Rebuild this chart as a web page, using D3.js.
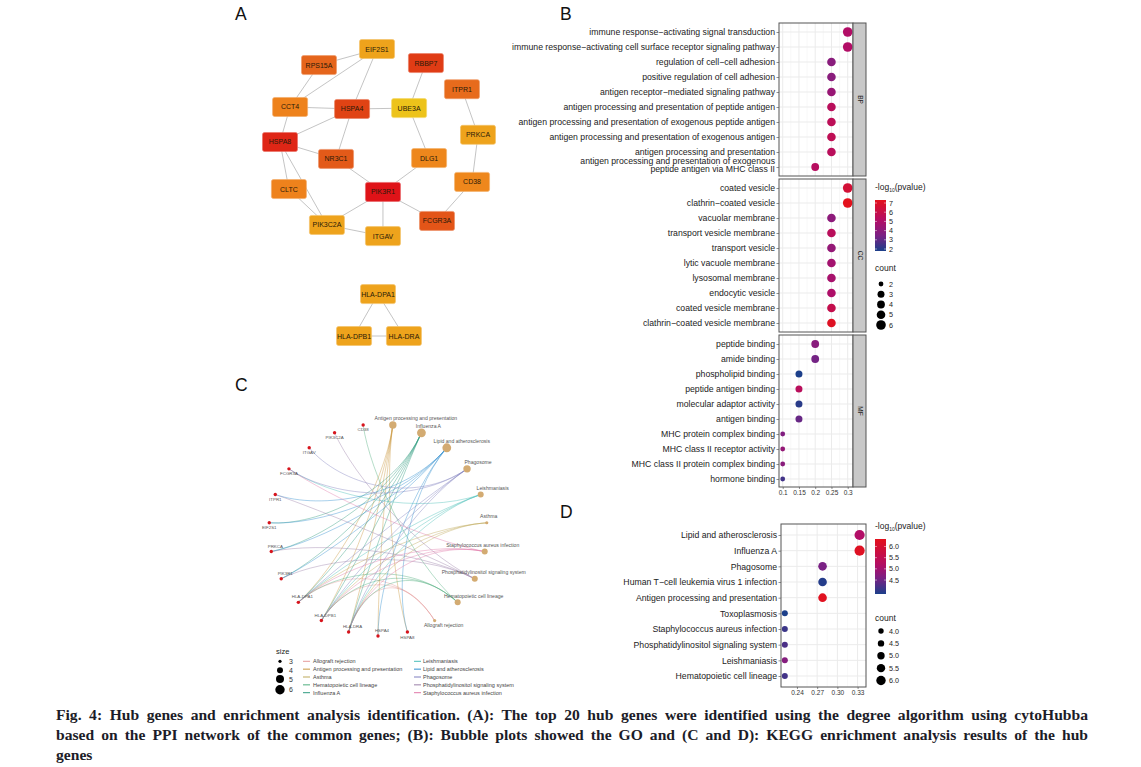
<!DOCTYPE html>
<html><head><meta charset="utf-8">
<script src="https://cdn.jsdelivr.net/npm/d3@7"></script>
<style>html,body{margin:0;padding:0;background:#fff}svg{display:block}text{font-family:"Liberation Sans",Arial,sans-serif}</style>
</head><body><svg id="c" width="1141" height="767"></svg>
<script>
// ---------- Panel A data
const hubGenes=["EIF2S1","RPS15A","RBBP7","ITPR1","CCT4","HSPA4","UBE3A","PRKCA","HSPA8","NR3C1","DLG1","CD38","CLTC","PIK3R1","FCGR3A","PIK3C2A","ITGAV","HLA-DPA1","HLA-DPB1","HLA-DRA"];
const hubScores=[3,6.5,8.3,6.2,5,8,1,3,9.2,7,4.7,4.7,5,10,7.2,3,3,3,3,3];
const hubLayoutX=[49,19.7,73.7,91.9,5.1,36.4,65.2,100,0,28.3,75.3,97,4.5,52,79.3,23.7,52,49.5,37.4,62.6];
const hubLayoutY=[0,5.6,4.9,14,20.2,20.9,20.6,29.9,32.4,38.3,38,46.3,48.8,49.8,59.9,61.3,65.2,85.4,100,100];
const hubLinks=[["EIF2S1","RPS15A"],["EIF2S1","CCT4"],["EIF2S1","HSPA4"],["RPS15A","CCT4"],["CCT4","HSPA4"],["CCT4","HSPA8"],["HSPA4","UBE3A"],["HSPA4","HSPA8"],["HSPA4","NR3C1"],["UBE3A","RBBP7"],["UBE3A","DLG1"],["ITPR1","PRKCA"],["PRKCA","CD38"],["CD38","FCGR3A"],["HSPA8","NR3C1"],["HSPA8","CLTC"],["HSPA8","PIK3C2A"],["CLTC","PIK3C2A"],["NR3C1","PIK3R1"],["DLG1","PIK3R1"],["PIK3R1","PIK3C2A"],["PIK3R1","ITGAV"],["PIK3R1","FCGR3A"],["PIK3C2A","ITGAV"],["HLA-DPA1","HLA-DPB1"],["HLA-DPA1","HLA-DRA"],["HLA-DPB1","HLA-DRA"]];
// ---------- Panel B data
const bpNames=["immune response−activating signal transduction","immune response−activating cell surface receptor signaling pathway","regulation of cell−cell adhesion","positive regulation of cell adhesion","antigen receptor−mediated signaling pathway","antigen processing and presentation of peptide antigen","antigen processing and presentation of exogenous peptide antigen","antigen processing and presentation of exogenous antigen","antigen processing and presentation","antigen processing and presentation of exogenous peptide antigen via MHC class II"];
const bpRatio=[.3,.3,.25,.25,.25,.25,.25,.25,.25,.2];
const bpLog=[5,5,3.9,3.9,4.3,5.3,5.4,5.5,5.3,5.2];
const bpCount=[6,6,5,5,5,5,5,5,5,4];
const ccNames=["coated vesicle","clathrin−coated vesicle","vacuolar membrane","transport vesicle membrane","transport vesicle","lytic vacuole membrane","lysosomal membrane","endocytic vesicle","coated vesicle membrane","clathrin−coated vesicle membrane"];
const ccRatio=[.3,.3,.25,.25,.25,.25,.25,.25,.25,.25];
const ccLog=[6.3,7,4,5.3,4.2,4.6,4.7,4.9,5.7,6.8];
const ccCount=[6,6,5,5,5,5,5,5,5,5];
const mfNames=["peptide binding","amide binding","phospholipid binding","peptide antigen binding","molecular adaptor activity","antigen binding","MHC protein complex binding","MHC class II receptor activity","MHC class II protein complex binding","hormone binding"];
const mfRatio=[.2,.2,.15,.15,.15,.15,.1,.1,.1,.1];
const mfLog=[3.9,3.4,2,5.3,2.2,3.2,3.7,4.2,3.9,2.6];
const mfCount=[4,4,3,3,3,3,2,2,2,2];
const goTicks=[.1,.15,.2,.25,.3];
const goColorTicks=[7,6,5,4,3,2];
const goCountTicks=[2,3,4,5,6];
// ---------- Panel C data
const circleGenes=["CD38","PIK3C2A","ITGAV","FCGR3A","ITPR1","EIF2S1","PRKCA","PIK3R1","HLA-DPA1","HLA-DPB1","HLA-DRA","HSPA4","HSPA8"];
const circleTerms=["Allograft rejection","Hematopoietic cell lineage","Phosphatidylinositol signaling system","Staphylococcus aureus infection","Asthma","Leishmaniasis","Phagosome","Lipid and atherosclerosis","Influenza A","Antigen processing and presentation"];
const hla=["HLA-DPA1","HLA-DPB1","HLA-DRA"];
const termGenes={
 "Allograft rejection":[...hla],
 "Antigen processing and presentation":[...hla,"HSPA4","HSPA8"],
 "Asthma":[...hla],
 "Hematopoietic cell lineage":[...hla,"CD38"],
 "Influenza A":[...hla,"EIF2S1","PIK3R1","PRKCA"],
 "Leishmaniasis":[...hla,"FCGR3A"],
 "Lipid and atherosclerosis":["HSPA8","HSPA4","EIF2S1","PIK3R1","PRKCA","ITPR1"],
 "Phagosome":[...hla,"FCGR3A","ITGAV"],
 "Phosphatidylinositol signaling system":["PIK3R1","PIK3C2A","ITPR1","PRKCA"],
 "Staphylococcus aureus infection":[...hla,"FCGR3A"]};
const legendTerms=["Allograft rejection","Antigen processing and presentation","Asthma","Hematopoietic cell lineage","Influenza A","Leishmaniasis","Lipid and atherosclerosis","Phagosome","Phosphatidylinositol signaling system","Staphylococcus aureus infection"];
const termColors=["#e59a9a","#c9973f","#bda95a","#4fae7e","#2f9c80","#48bdb8","#2f8fd0","#7f7fbf","#9a7fa8","#e078a8"];
const sizeTicks=[3,4,5,6];
// ---------- Panel D data
const keggNames=["Lipid and atherosclerosis","Influenza A","Phagosome","Human T−cell leukemia virus 1 infection","Antigen processing and presentation","Toxoplasmosis","Staphylococcus aureus infection","Phosphatidylinositol signaling system","Leishmaniasis","Hematopoietic cell lineage"];
const keggRatio=[.333,.333,.278,.278,.278,.222,.222,.222,.222,.222];
const keggLog=[5.2,6.1,4.7,4.15,6.15,4.1,4.3,4.4,4.8,4.35];
const keggCount=[6,6,5,5,5,4,4,4,4,4];
const keggTicks=[.24,.27,.30,.33];
const keggColorTicks=[6,5.5,5,4.5];
const keggCountTicks=[4,4.5,5,5.5,6];
const captionLines=["Fig. 4: Hub genes and enrichment analysis identification. (A): The top 20 hub genes were identified using the degree algorithm using cytoHubba","based on the PPI network of the common genes; (B): Bubble plots showed the GO and (C and D): KEGG enrichment analysis results of the hub","genes"];

const svg=d3.select("#c");
// panel letters
[["A",235,20],["B",560,20],["C",235,391],["D",560,518]].forEach(([t,x,y])=>svg.append("text").attr("x",x).attr("y",y).attr("font-size",17.5).attr("fill","#111").text(t));

// ---------- Panel A
(function(){
 const x=d3.scaleLinear([0,100],[280,478]),y=d3.scaleLinear([0,100],[49,336]);
 const col=d3.scaleLinear([1,3,5,6.5,8,10],["#edc31a","#eea31c","#ee821c","#e5651c","#e04314","#df1318"]);
 const g=svg.append("g");
 const idx=n=>hubGenes.indexOf(n);
 g.selectAll("line").data(hubLinks).join("line")
  .attr("x1",d=>x(hubLayoutX[idx(d[0])])).attr("y1",d=>y(hubLayoutY[idx(d[0])]))
  .attr("x2",d=>x(hubLayoutX[idx(d[1])])).attr("y2",d=>y(hubLayoutY[idx(d[1])]))
  .attr("stroke","#b5b5b5").attr("stroke-width",.8);
 const n=g.selectAll("g.n").data(hubGenes).join("g").attr("transform",(d,i)=>`translate(${x(hubLayoutX[i])},${y(hubLayoutY[i])})`);
 n.append("rect").attr("x",-17.5).attr("y",-9.5).attr("width",35).attr("height",19).attr("rx",2)
  .attr("fill",(d,i)=>col(hubScores[i])).attr("stroke",(d,i)=>d3.interpolateRgb(col(hubScores[i]),"#fff")(.35)).attr("stroke-width",.7);
 n.append("text").attr("text-anchor","middle").attr("y",2.5).attr("font-size",7).attr("fill","#2a1a08").text(d=>d);
})();

// ---------- dot plot helpers
function dotPanel(o){
 const g=svg.append("g");
 const x=d3.scaleLinear(o.xDomain,[o.x0,o.x1]);
 const y=d3.scalePoint(o.names,[o.rowTop,o.rowBot]);
 g.append("rect").attr("x",o.x0).attr("y",o.y0).attr("width",o.x1-o.x0).attr("height",o.y1-o.y0).attr("fill","#fff");
 const minors=d3.pairs(o.ticks).map(([a,b])=>(a+b)/2);
 g.selectAll("line.mi").data(minors).join("line").attr("class","mi").attr("x1",d=>x(d)).attr("x2",d=>x(d)).attr("y1",o.y0).attr("y2",o.y1).attr("stroke","#f4f4f4").attr("stroke-width",.6);
 g.selectAll("line.ma").data(o.ticks).join("line").attr("class","ma").attr("x1",d=>x(d)).attr("x2",d=>x(d)).attr("y1",o.y0).attr("y2",o.y1).attr("stroke","#ebebeb").attr("stroke-width",1);
 g.selectAll("line.hz").data(o.names).join("line").attr("class","hz").attr("x1",o.x0).attr("x2",o.x1).attr("y1",d=>y(d)).attr("y2",d=>y(d)).attr("stroke","#ebebeb").attr("stroke-width",1);
 const ax=g.append("g").attr("transform",`translate(${o.x0},0)`).call(d3.axisLeft(y).tickSize(2.5).tickPadding(1.5));
 ax.select(".domain").remove();
 ax.selectAll("line").attr("stroke","#444").attr("stroke-width",.6);
 ax.selectAll("text").attr("font-size",o.font).attr("fill","#222").attr("font-family",'"Liberation Sans"').each(function(d){
  if(d.length>70){
   const t=d3.select(this),tx=+t.attr("x"),words=d.split(" ");
   t.text(null);
   t.append("tspan").attr("x",tx).attr("dy","-0.44em").text(words.slice(0,6).join(" "));
   t.append("tspan").attr("x",tx).attr("dy","0.9em").text(words.slice(6).join(" "));
  }
 });
 g.selectAll("circle").data(o.names).join("circle").attr("cx",(d,i)=>x(o.ratio[i])).attr("cy",d=>y(d))
  .attr("r",(d,i)=>o.r(o.count[i])).attr("fill",(d,i)=>o.color(o.log[i]));
 g.append("rect").attr("x",o.x0).attr("y",o.y0).attr("width",o.x1-o.x0).attr("height",o.y1-o.y0).attr("fill","none").attr("stroke","#555").attr("stroke-width",1);
 if(o.strip){
  g.append("rect").attr("x",o.x1).attr("y",o.y0).attr("width",13).attr("height",o.y1-o.y0).attr("fill","#c8c8c8").attr("stroke","#555").attr("stroke-width",1);
  g.append("text").attr("transform",`translate(${o.x1+4.5},${(o.y0+o.y1)/2}) rotate(90)`).attr("text-anchor","middle").attr("font-size",6.5).attr("fill","#222").text(o.strip);
 }
 if(o.showX){
  const a=g.append("g").attr("transform",`translate(0,${o.y1})`).call(d3.axisBottom(x).tickValues(o.ticks).tickFormat(o.fmt).tickSize(2).tickPadding(1.5));
  a.select(".domain").remove();a.selectAll("line").attr("stroke","#444").attr("stroke-width",.6);
  a.selectAll("text").attr("font-size",6.5).attr("fill","#333").attr("font-family",'"Liberation Sans"');
 }
}
function makeLegend(o){
 const g=svg.append("g");
 const t=g.append("text").attr("x",o.x).attr("y",o.titleY).attr("font-size",8.5).attr("fill","#222");
 t.append("tspan").text("-log");t.append("tspan").attr("font-size",5).attr("dy",2).text("10");t.append("tspan").attr("dy",-2).text("(pvalue)");
 const id=o.id;
 const grad=svg.append("defs").append("linearGradient").attr("id",id).attr("x1",0).attr("x2",0).attr("y1",1).attr("y2",0);
 const dom=o.color.domain(),lo=dom[0],hi=dom[dom.length-1];
 d3.range(0,1.001,.1).forEach(f=>grad.append("stop").attr("offset",f).attr("stop-color",o.color(lo+f*(hi-lo))));
 g.append("rect").attr("x",o.x).attr("y",o.barTop).attr("width",11).attr("height",o.barBot-o.barTop).attr("fill",`url(#${id})`);
 const s=d3.scaleLinear([lo,hi],[o.barBot-o.pad0,o.barTop+o.pad1]);
 o.colorTicks.forEach(v=>{
  g.append("line").attr("x1",o.x).attr("x2",o.x+2).attr("y1",s(v)).attr("y2",s(v)).attr("stroke","#fff").attr("stroke-width",.5);
  g.append("line").attr("x1",o.x+9).attr("x2",o.x+11).attr("y1",s(v)).attr("y2",s(v)).attr("stroke","#fff").attr("stroke-width",.5);
  g.append("text").attr("x",o.x+14).attr("y",s(v)+2.6).attr("font-size",7.2).attr("fill","#222").text(o.fmt(v));
 });
 g.append("text").attr("x",o.x).attr("y",o.countY).attr("font-size",8.5).attr("fill","#222").text("count");
 const ys=d3.scalePoint(o.countTicks,[o.cy0,o.cy1]);
 o.countTicks.forEach(v=>{
  g.append("circle").attr("cx",o.x+6).attr("cy",ys(v)).attr("r",o.r(v)).attr("fill","#000");
  g.append("text").attr("x",o.x+14).attr("y",ys(v)+2.6).attr("font-size",7.2).attr("fill","#222").text(o.fmt(v));
 });
}
const ramp=["#1c3f8a","#7a2184","#b20d66","#e3111c"];

// ---------- Panel B
(function(){
 const color=d3.scaleLinear([2,3.5,5,7],ramp);
 const r=d3.scaleLinear([2,3,4,5,6],[2.4,3.5,3.9,4.3,4.8]);
 const base={xDomain:[.0886,.3163],x0:779,x1:853,ticks:goTicks,font:8.7,color,r,fmt:d3.format("")};
 dotPanel({...base,names:bpNames,ratio:bpRatio,log:bpLog,count:bpCount,y0:23,y1:176,rowTop:32,rowBot:167,strip:"BP"});
 dotPanel({...base,names:ccNames,ratio:ccRatio,log:ccLog,count:ccCount,y0:179,y1:332,rowTop:188,rowBot:323,strip:"CC"});
 dotPanel({...base,names:mfNames,ratio:mfRatio,log:mfLog,count:mfCount,y0:335,y1:487,rowTop:344,rowBot:479,strip:"MF",showX:true});
 makeLegend({id:"gb",x:875,titleY:190,color,barTop:200,barBot:251,pad0:2,pad1:3,colorTicks:goColorTicks,countTicks:goCountTicks,countY:271,cy0:284,cy1:325,r:d=>r(d),fmt:d3.format("")});
})();

// ---------- Panel D
(function(){
 const color=d3.scaleLinear([4.1,4.7,5.2,6.2],ramp);
 const r=d3.scaleLinear([4,5,6],[3,4.3,5.1]);
 dotPanel({xDomain:[.2163,.3425],x0:781,x1:866,ticks:keggTicks,font:8.7,color,r,fmt:d3.format(".2f"),names:keggNames,ratio:keggRatio,log:keggLog,count:keggCount,y0:524,y1:687,rowTop:535,rowBot:676,showX:true});
 const rl=d3.scaleLinear([4,6],[2.7,4.7]);
 makeLegend({id:"gd",x:875,titleY:529,color,barTop:539,barBot:594,pad0:5,pad1:3,colorTicks:keggColorTicks,countTicks:keggCountTicks,countY:621,cy0:631,cy1:680.5,r:d=>rl(d),fmt:d3.format(".1f")});
})();

// ---------- Panel C
(function(){
 // evenly spaced around the ring: CD38 just left of the top, running counter-clockwise
 const ordered=[...circleGenes,...circleTerms];
 const step=2*Math.PI/ordered.length;
 const angle=d3.scaleOrdinal(ordered,ordered.map((d,i)=>-step*(0.5+i)));
 const cx=378,cy=530,rx=109,ry=106;
 const rs=d3.scaleLinear([1,3,4,5,6],[1.0,1.6,3,3.7,4.4]);
 const px=n=>cx+rx*Math.sin(angle(n)),py=n=>cy-ry*Math.cos(angle(n));
 const colorOf=d3.scaleOrdinal(legendTerms,termColors);
 const links=legendTerms.flatMap(t=>termGenes[t].map(g=>({t,g})));
 const g=svg.append("g");
 g.selectAll("path").data(links).join("path").attr("fill","none").attr("stroke",d=>colorOf(d.t)).attr("stroke-width",.7).attr("stroke-opacity",.6)
  .attr("d",d=>{
   const x0=px(d.g),y0=py(d.g),x1=px(d.t),y1=py(d.t);
   const p=d3.path();p.moveTo(x0,y0);
   p.bezierCurveTo(x0+(cx-x0)*.45,y0+(cy-y0)*.45,x1+(cx-x1)*.6,y1+(cy-y1)*.6,x1,y1);return p;
  });
 const termSet=new Map(legendTerms.map(t=>[t,termGenes[t].length]));
 g.selectAll("circle.t").data(circleTerms).join("circle").attr("class","t").attr("cx",px).attr("cy",py).attr("r",d=>rs(termSet.get(d))).attr("fill","#d3ab72");
 g.selectAll("circle.g").data(circleGenes).join("circle").attr("class","g").attr("cx",px).attr("cy",py).attr("r",1.7).attr("fill","#d7141c");
 const above=new Set(["PRKCA","PIK3R1","HLA-DPA1","HLA-DPB1","HLA-DRA","HSPA4"]);
 g.selectAll("text.g").data(circleGenes).join("text").attr("class","g").attr("text-anchor","middle").attr("font-size",4.4).attr("fill","#555")
  .attr("x",d=>px(d)+(above.has(d)?4:0)).attr("y",d=>py(d)+(above.has(d)?-4:6.5)).text(d=>d);
 const tdx={"Antigen processing and presentation":23,"Influenza A":7,"Lipid and atherosclerosis":15,"Phagosome":11,"Leishmaniasis":12,"Asthma":2,"Staphylococcus aureus infection":-2,"Phosphatidylinositol signaling system":9,"Hematopoietic cell lineage":16,"Allograft rejection":9};
 const tdy={"Antigen processing and presentation":-4.5,"Influenza A":-4.5,"Lipid and atherosclerosis":-4.5,"Phagosome":-5,"Leishmaniasis":-4.5,"Asthma":-4.5,"Staphylococcus aureus infection":-4.5,"Phosphatidylinositol signaling system":-5,"Hematopoietic cell lineage":-4.5,"Allograft rejection":6.5};
 g.selectAll("text.t").data(circleTerms).join("text").attr("class","t").attr("text-anchor","middle").attr("font-size",5.1).attr("fill","#555")
  .attr("x",d=>px(d)+tdx[d]).attr("y",d=>py(d)+tdy[d]).text(d=>d);
 // size legend
 const l=svg.append("g");
 l.append("text").attr("x",276).attr("y",654).attr("font-size",7.5).attr("fill","#222").text("size");
 const sy=d3.scaleLinear([3,4,5,6],[661.3,670.3,679,689.7]);
 const sr=d3.scaleLinear([3,4,5,6],[1.6,3,4,4.7]);
 sizeTicks.forEach(v=>{
  l.append("circle").attr("cx",280).attr("cy",sy(v)).attr("r",sr(v)).attr("fill","#000");
  l.append("text").attr("x",289).attr("y",sy(v)+2.5).attr("font-size",7).attr("fill","#333").text(v);
 });
 const col=i=>i<5?303:414, rowY=d3.scalePoint(d3.range(5),[661.3,692.7]);
 legendTerms.forEach((t,i)=>{
  const yy=rowY(i%5);
  l.append("line").attr("x1",col(i)).attr("x2",col(i)+7).attr("y1",yy).attr("y2",yy).attr("stroke",colorOf(t)).attr("stroke-width",1);
  l.append("text").attr("x",col(i)+(i<5?10:9)).attr("y",yy+1.8).attr("font-size",5.5).attr("fill","#444").text(t);
 });
})();

// ---------- Caption
const capY=[720,740,760];
captionLines.forEach((t,i)=>{
 const e=svg.append("text").attr("x",56).attr("y",capY[i]).attr("font-size",15.6).attr("font-weight","bold").attr("fill","#1c1c28").style("font-family",'"Liberation Serif",serif').text(t);
 if(i<2){
  const gap=(1032-e.node().getComputedTextLength())/(t.split(" ").length-1);
  e.style("word-spacing",gap+"px");
 }
});
</script></body></html>
